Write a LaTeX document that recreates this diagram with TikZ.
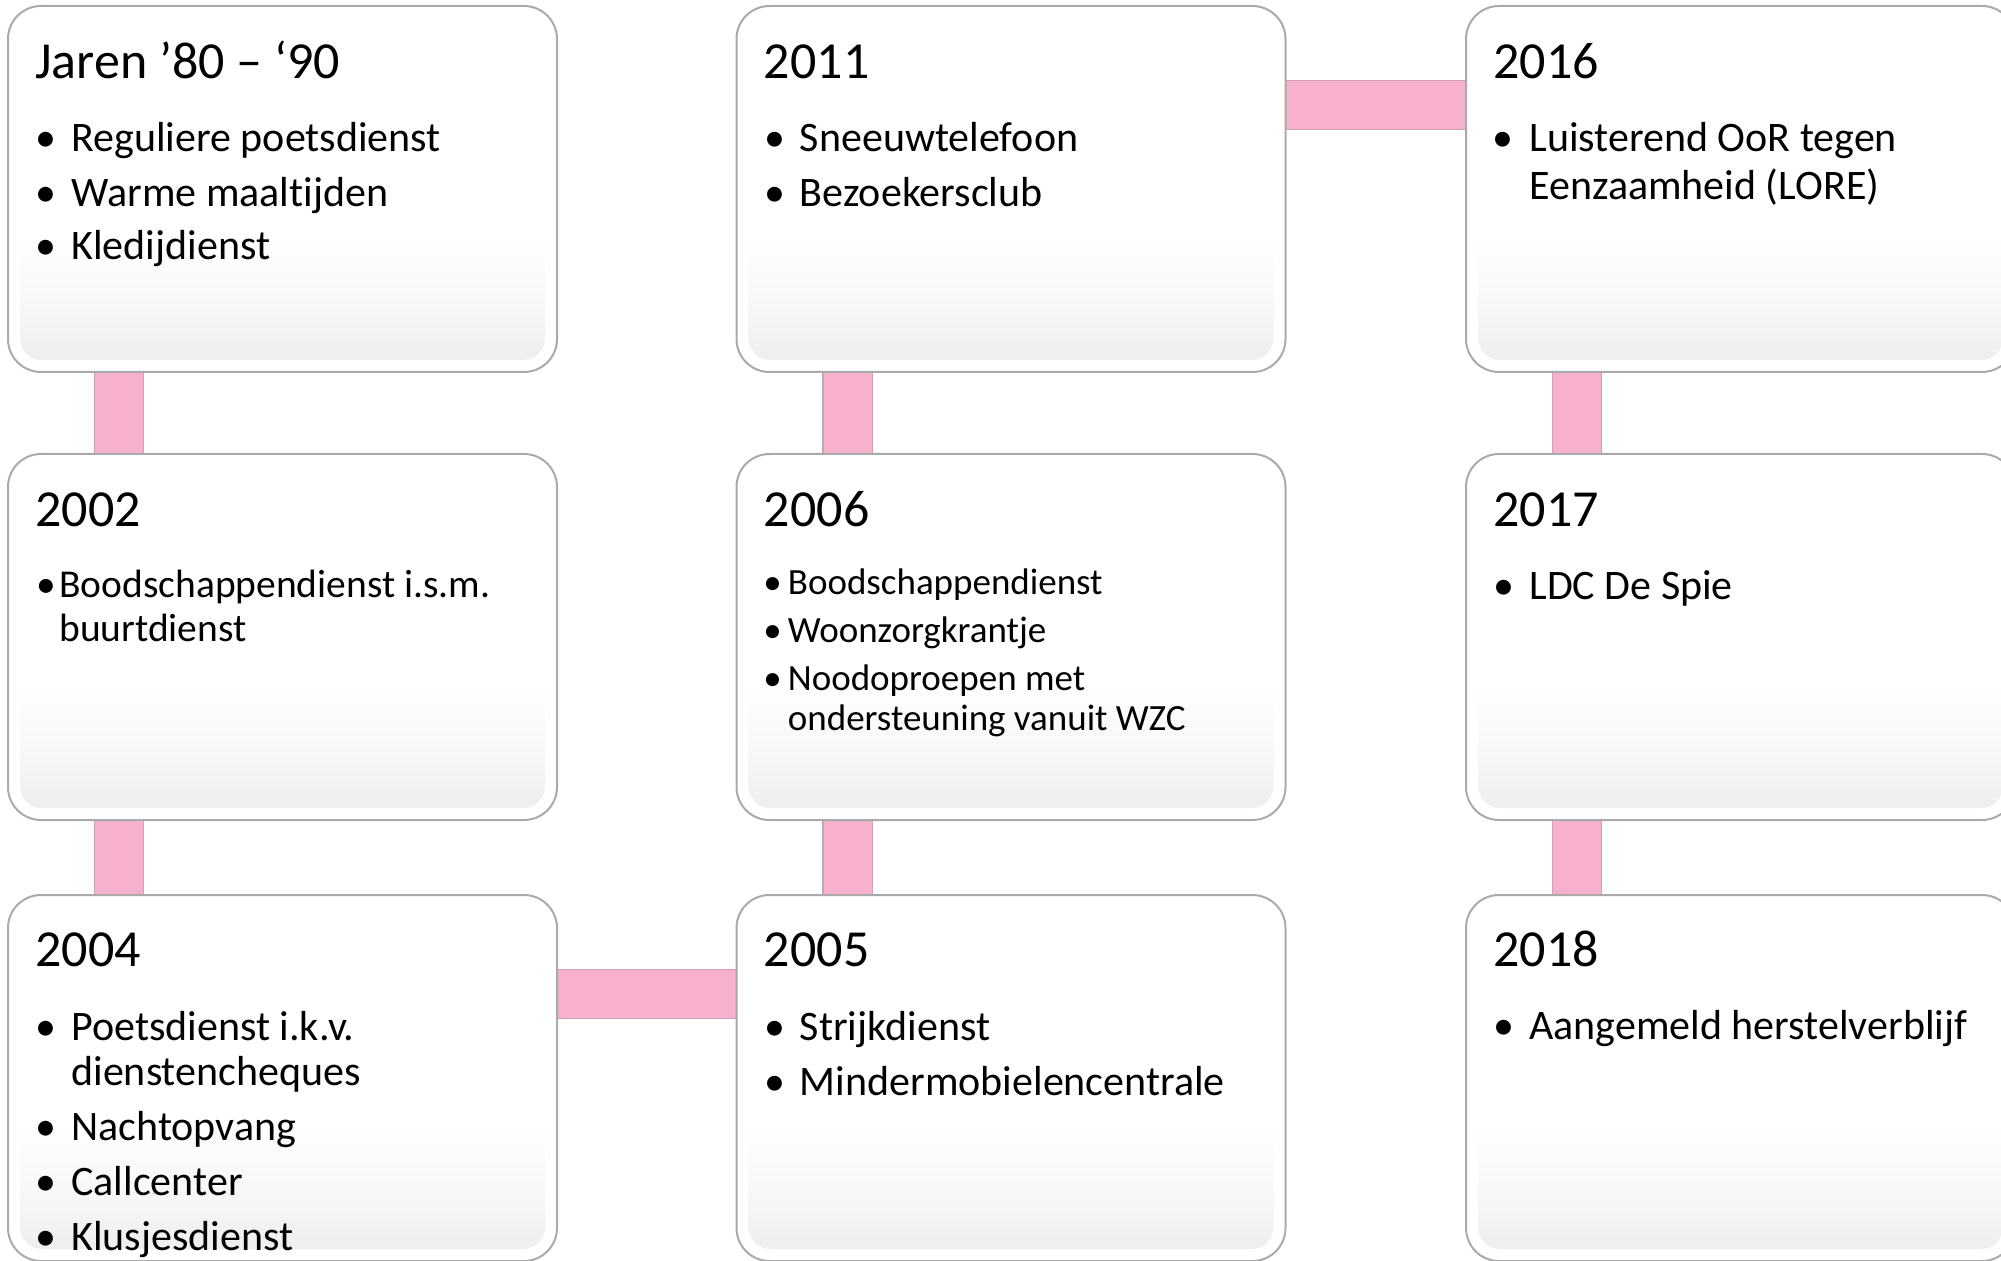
\documentclass[tikz,border=0pt]{standalone}
\usepackage{fontspec}
\setmainfont{Carlito}[Ligatures=NoCommon]
\usetikzlibrary{calc,backgrounds}
\definecolor{pinkc}{RGB}{247,177,205}
\definecolor{pinkb}{RGB}{205,160,178}
\definecolor{boxline}{RGB}{170,170,170}
\definecolor{boxbot}{RGB}{236,236,236}
\definecolor{boxmid}{RGB}{246,246,246}
\pgfdeclareverticalshading{boxshade}{100bp}{color(0bp)=(boxbot); color(25bp)=(boxbot); color(33bp)=(boxmid); color(44bp)=(white); color(100bp)=(white)}
\begin{document}
\begin{tikzpicture}[x=0.5pt,y=-0.5pt,
  tbox/.style={rectangle, rounded corners=16.5pt, minimum width=274.5pt, minimum height=183pt,
    inner sep=0pt, outer sep=0pt, fill=white, draw=boxline, line width=1pt,
    path picture={\shade[shading=boxshade, rounded corners=11pt]
      ([shift={(6pt,6pt)}]path picture bounding box.south west) rectangle
      ([shift={(-6pt,-6pt)}]path picture bounding box.north east);}},
  conn/.style={draw=pinkb, line width=0.6pt, double=pinkc, double distance=24pt},
  ttl/.style={anchor=base west, inner sep=0pt, font=\fontsize{26pt}{30pt}\selectfont},
  itm/.style={anchor=base west, inner sep=0pt, font=\fontsize{21pt}{25pt}\selectfont},
  bul/.style={anchor=base, inner sep=0pt, font=\fontsize{21pt}{25pt}\selectfont},
  itms/.style={anchor=base west, inner sep=0pt, font=\fontsize{18.5pt}{22pt}\selectfont},
  buls/.style={anchor=base, inner sep=0pt, font=\fontsize{18.5pt}{22pt}\selectfont},
  itmm/.style={anchor=base west, inner sep=0pt, font=\fontsize{19.75pt}{23pt}\selectfont},
  bulm/.style={anchor=base, inner sep=0pt, font=\fontsize{19.75pt}{23pt}\selectfont}]
\clip (0,0) rectangle (2001,1261);

% boxes
\node[tbox] (b1) at (282.5,189) {};
\node[tbox] (b2) at (1011,189) {};
\node[tbox] (b3) at (1740.5,189) {};
\node[tbox] (b4) at (282.5,637) {};
\node[tbox] (b5) at (1011,637) {};
\node[tbox] (b6) at (1740.5,637) {};
\node[tbox] (b7) at (282.5,1078) {};
\node[tbox] (b8) at (1011,1078) {};
\node[tbox] (b9) at (1740.5,1078) {};

% connectors
\begin{pgfonlayer}{background}
\draw[conn] ($(b1.south west)+(111,0)$) -- ($(b4.north west)+(111,0)$);
\draw[conn] ($(b4.south west)+(111,0)$) -- ($(b7.north west)+(111,0)$);
\draw[conn] ($(b7.north east)+(0,99)$) -- ($(b8.north west)+(0,99)$);
\draw[conn] ($(b8.north west)+(111,0)$) -- ($(b5.south west)+(111,0)$);
\draw[conn] ($(b5.north west)+(111,0)$) -- ($(b2.south west)+(111,0)$);
\draw[conn] ($(b2.north east)+(0,99)$) -- ($(b3.north west)+(0,99)$);
\draw[conn] ($(b3.south west)+(111,0)$) -- ($(b6.north west)+(111,0)$);
\draw[conn] ($(b6.south west)+(111,0)$) -- ($(b9.north west)+(111,0)$);
\end{pgfonlayer}

% box 1
\node[ttl] (t1) at ($(b1.north west)+(27,73)$) {Jaren ’80 – ‘90};
\node[bul] (d1a) at ($(b1.north west)+(38,146)$) {•};
\node[itm] (i1a) at ($(b1.north west)+(63,146)$) {Reguliere poetsdienst};
\node[bul] (d1b) at ($(b1.north west)+(38,201)$) {•};
\node[itm] (i1b) at ($(b1.north west)+(63,201)$) {Warme maaltijden};
\node[bul] (d1c) at ($(b1.north west)+(38,254)$) {•};
\node[itm] (i1c) at ($(b1.north west)+(63,254)$) {Kledijdienst};

% box 2
\node[ttl] (t2) at ($(b2.north west)+(27,73)$) {2011};
\node[bul] (d2a) at ($(b2.north west)+(38,146)$) {•};
\node[itm] (i2a) at ($(b2.north west)+(63,146)$) {Sneeuwtelefoon};
\node[bul] (d2b) at ($(b2.north west)+(38,201)$) {•};
\node[itm] (i2b) at ($(b2.north west)+(63,201)$) {Bezoekersclub};

% box 3
\node[ttl] (t3) at ($(b3.north west)+(27,73)$) {2016};
\node[bul] (d3a) at ($(b3.north west)+(37,146)$) {•};
\node[itm] (i3a) at ($(b3.north west)+(63,146)$) {Luisterend OoR tegen};
\node[itm] (i3b) at ($(b3.north west)+(63,194)$) {Eenzaamheid (LORE)};

% box 4
\node[ttl] (t4) at ($(b4.north west)+(27,72)$) {2002};
\node[bulm] (d4a) at ($(b4.north west)+(38,143)$) {•};
\node[itmm] (i4a) at ($(b4.north west)+(51,143)$) {Boodschappendienst i.s.m.};
\node[itmm] (i4b) at ($(b4.north west)+(51,187)$) {buurtdienst};

% box 5
\node[ttl] (t5) at ($(b5.north west)+(27,72)$) {2006};
\node[buls] (d5a) at ($(b5.north west)+(36,140)$) {•};
\node[itms] (i5a) at ($(b5.north west)+(51,140)$) {Boodschappendienst};
\node[buls] (d5b) at ($(b5.north west)+(36,188)$) {•};
\node[itms] (i5b) at ($(b5.north west)+(51,188)$) {Woonzorgkrantje};
\node[buls] (d5c) at ($(b5.north west)+(36,236)$) {•};
\node[itms] (i5c) at ($(b5.north west)+(51,236)$) {Noodoproepen met};
\node[itms] (i5d) at ($(b5.north west)+(51,276)$) {ondersteuning vanuit WZC};

% box 6
\node[ttl] (t6) at ($(b6.north west)+(27,72)$) {2017};
\node[bul] (d6a) at ($(b6.north west)+(38,145)$) {•};
\node[itm] (i6a) at ($(b6.north west)+(63,145)$) {LDC De Spie};

% box 7
\node[ttl] (t7) at ($(b7.north west)+(27,71)$) {2004};
\node[bul] (d7a) at ($(b7.north west)+(38,145)$) {•};
\node[itm] (i7a) at ($(b7.north west)+(63,145)$) {Poetsdienst i.k.v.};
\node[itm] (i7b) at ($(b7.north west)+(63,190)$) {dienstencheques};
\node[bul] (d7c) at ($(b7.north west)+(38,245)$) {•};
\node[itm] (i7c) at ($(b7.north west)+(63,245)$) {Nachtopvang};
\node[bul] (d7d) at ($(b7.north west)+(38,300)$) {•};
\node[itm] (i7d) at ($(b7.north west)+(63,300)$) {Callcenter};
\node[bul] (d7e) at ($(b7.north west)+(38,355)$) {•};
\node[itm] (i7e) at ($(b7.north west)+(63,355)$) {Klusjesdienst};

% box 8
\node[ttl] (t8) at ($(b8.north west)+(27,71)$) {2005};
\node[bul] (d8a) at ($(b8.north west)+(38,145)$) {•};
\node[itm] (i8a) at ($(b8.north west)+(63,145)$) {Strijkdienst};
\node[bul] (d8b) at ($(b8.north west)+(38,200)$) {•};
\node[itm] (i8b) at ($(b8.north west)+(63,200)$) {Mindermobielencentrale};

% box 9
\node[ttl] (t9) at ($(b9.north west)+(27,71)$) {2018};
\node[bul] (d9a) at ($(b9.north west)+(38,144)$) {•};
\node[itm] (i9a) at ($(b9.north west)+(63,144)$) {Aangemeld herstelverblijf};
\end{tikzpicture}
\end{document}
